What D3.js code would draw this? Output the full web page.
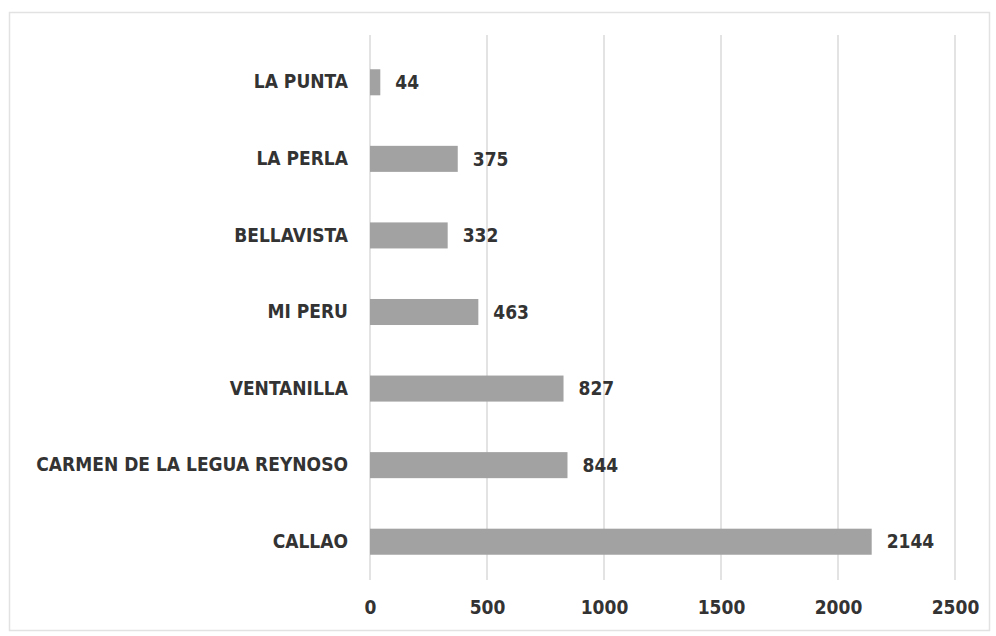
<!DOCTYPE html>
<html>
<head>
<meta charset="utf-8">
<script src="https://cdn.jsdelivr.net/npm/d3@7"></script>
<style>
  html, body { margin: 0; padding: 0; background: #fff; }
  svg { display: block; }
</style>
</head>
<body>
<svg id="chart" width="996" height="636"></svg>
<script>
// Districts of the Callao region, top to bottom
const districts = ["LA PUNTA", "LA PERLA", "BELLAVISTA", "MI PERU", "VENTANILLA", "CARMEN DE LA LEGUA REYNOSO", "CALLAO"];
const counts = [44, 375, 332, 463, 827, 844, 2144];
const xTicks = [0, 500, 1000, 1500, 2000, 2500];

const rows = districts.map((d, i) => ({ name: d, value: counts[i] }));

const W = 996, H = 636;
const margin = { left: 370, right: 34, top: 44, bottom: 56 };
const font = "'DejaVu Sans Condensed', 'Liberation Sans Narrow', Arial, sans-serif";
const fontSize = "19px";

const svg = d3.select("#chart");

// outer frame
svg.append("rect")
  .attr("x", 9.5).attr("y", 12.5)
  .attr("width", W - 16).attr("height", H - 18)
  .attr("fill", "#fff").attr("stroke", "#e2e2e2").attr("stroke-width", 1.5);

const x = d3.scaleLinear().domain([0, 2500]).range([margin.left, margin.left + 585]);
const y = d3.scaleBand().domain(districts).range([margin.top, H - margin.bottom]).paddingInner(0.66).paddingOuter(0.33);

// vertical gridlines
svg.append("g")
  .selectAll("line")
  .data(xTicks)
  .join("line")
  .attr("x1", d => x(d)).attr("x2", d => x(d))
  .attr("y1", 35).attr("y2", H - margin.bottom)
  .attr("stroke", "#dadada").attr("stroke-width", 1.5);

// x axis labels
const xAxis = d3.axisBottom(x).tickValues(xTicks).tickSize(0).tickPadding(0).tickFormat(d3.format("d"));
const gx = svg.append("g").attr("transform", `translate(0,${H - margin.bottom + 20})`).call(xAxis);
gx.select(".domain").remove();
gx.selectAll("text")
  .attr("dy", "0.71em")
  .attr("fill", "#333")
  .style("font-family", font)
  .style("font-weight", "bold")
  .style("font-size", fontSize);

// category labels
const yAxis = d3.axisLeft(y).tickSize(0).tickPadding(22);
const gy = svg.append("g").attr("transform", `translate(${margin.left},0)`).call(yAxis);
gy.select(".domain").remove();
gy.selectAll("text")
  .attr("fill", "#333")
  .style("font-family", font)
  .style("font-weight", "bold")
  .style("font-size", fontSize);

// bars
svg.append("g")
  .selectAll("rect")
  .data(rows)
  .join("rect")
  .attr("x", x(0))
  .attr("y", d => y(d.name))
  .attr("width", d => x(d.value) - x(0))
  .attr("height", y.bandwidth())
  .attr("fill", "#a2a2a2");

// value labels
svg.append("g")
  .selectAll("text")
  .data(rows)
  .join("text")
  .attr("x", d => x(d.value) + 15)
  .attr("y", d => y(d.name) + y.bandwidth() / 2)
  .attr("dy", "0.35em")
  .attr("fill", "#333")
  .style("font-family", font)
  .style("font-weight", "bold")
  .style("font-size", fontSize)
  .text(d => d.value);
</script>
</body>
</html>
